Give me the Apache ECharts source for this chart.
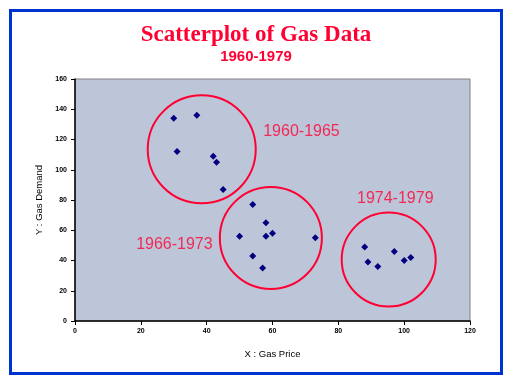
<!DOCTYPE html>
<html>
<head>
<meta charset="utf-8">
<script src="https://cdn.jsdelivr.net/npm/echarts@6/dist/echarts.min.js"></script>
<style>
html,body{margin:0;padding:0;background:#fff;}
#c{width:512px;height:384px;}
</style>
</head>
<body>
<div id="c"></div>
<script>
// Data
var gasPrice  = [30, 37, 31, 42, 43, 45, 54, 50, 54, 58, 60, 58, 57, 73, 88, 89, 92, 97, 100, 102];
var gasDemand = [134, 136, 112, 109, 105, 87, 77, 56, 43, 65, 58, 56, 35, 55, 49, 39, 36, 46, 40, 42];
var groupNames = ['1960-1965', '1966-1973', '1974-1979'];
var groupCenterX = [38.5, 59.5, 95.3];
var groupCenterY = [113.5, 54.9, 40.6];
var groupLabelX = [68.8, 30.2, 97.3];
var groupLabelY = [125.4, 50.6, 81.0];
var xTicks = [0, 20, 40, 60, 80, 100, 120];
var yTicks = [0, 20, 40, 60, 80, 100, 120, 140, 160];

var circleSizes = [108, 102, 94];
var RED = '#FF0033';

var points = gasPrice.map(function (x, i) { return [x, gasDemand[i]]; });
var circles = groupCenterX.map(function (x, i) { return { value: [x, groupCenterY[i]], symbolSize: circleSizes[i] }; });
var labels = groupLabelX.map(function (x, i) { return { value: [x, groupLabelY[i]], name: groupNames[i] }; });

var chart = echarts.init(document.getElementById('c'), null, { renderer: 'canvas' });
chart.setOption({
  backgroundColor: '#ffffff',
  animation: false,
  title: [
    { text: 'Scatterplot of Gas Data', left: 'center', top: 19,
      textStyle: { fontFamily: 'Liberation Serif', fontWeight: 'bold', fontSize: 23, color: RED } },
    { text: '1960-1979', left: 'center', top: 44,
      textStyle: { fontFamily: 'Liberation Sans', fontWeight: 'bold', fontSize: 15, color: RED } }
  ],
  graphic: [
    { type: 'rect', shape: { x: 10.5, y: 10.5, width: 491, height: 363 },
      style: { fill: 'none', stroke: '#0033CC', lineWidth: 3 }, z: 100 }
  ],
  grid: { left: 75, top: 79, width: 395, height: 242, show: true,
    backgroundColor: '#BDC5D9', borderColor: '#808080', borderWidth: 1 },
  xAxis: {
    type: 'value', min: 0, max: 120, interval: 20,
    name: 'X : Gas Price', nameLocation: 'middle', nameGap: 28,
    nameTextStyle: { fontFamily: 'Liberation Sans', fontSize: 9.5, color: '#000' },
    axisLine: { show: true, onZero: false, lineStyle: { color: '#000', width: 1.5 } },
    axisTick: { show: true, inside: false, length: 4, lineStyle: { color: '#000' } },
    axisLabel: { fontFamily: 'Liberation Sans', fontWeight: 'bold', fontSize: 7, color: '#000', margin: 7 },
    splitLine: { show: false }
  },
  yAxis: {
    type: 'value', min: 0, max: 160, interval: 20,
    name: 'Y : Gas Demand', nameLocation: 'middle', nameGap: 31,
    nameTextStyle: { fontFamily: 'Liberation Sans', fontSize: 9.5, color: '#000' },
    axisLine: { show: true, onZero: false, lineStyle: { color: '#000', width: 1.5 } },
    axisTick: { show: true, inside: false, length: 4, lineStyle: { color: '#000' } },
    axisLabel: { fontFamily: 'Liberation Sans', fontWeight: 'bold', fontSize: 7, color: '#000', margin: 8 },
    splitLine: { show: false }
  },
  series: [
    { type: 'scatter', name: 'Gas', data: points, symbol: 'diamond', symbolSize: 7,
      itemStyle: { color: '#000080', opacity: 1 }, z: 5 },
    { type: 'scatter', name: 'groups', data: circles, symbol: 'circle',
      itemStyle: { color: 'rgba(0,0,0,0)', borderColor: RED, borderWidth: 2, opacity: 1 }, z: 4, silent: true },
    { type: 'scatter', name: 'labels', data: labels, symbolSize: 0,
      label: { show: true, position: 'inside', formatter: '{b}',
        fontFamily: 'Liberation Sans', fontSize: 16, color: RED }, z: 6, silent: true }
  ]
});
</script>
</body>
</html>
